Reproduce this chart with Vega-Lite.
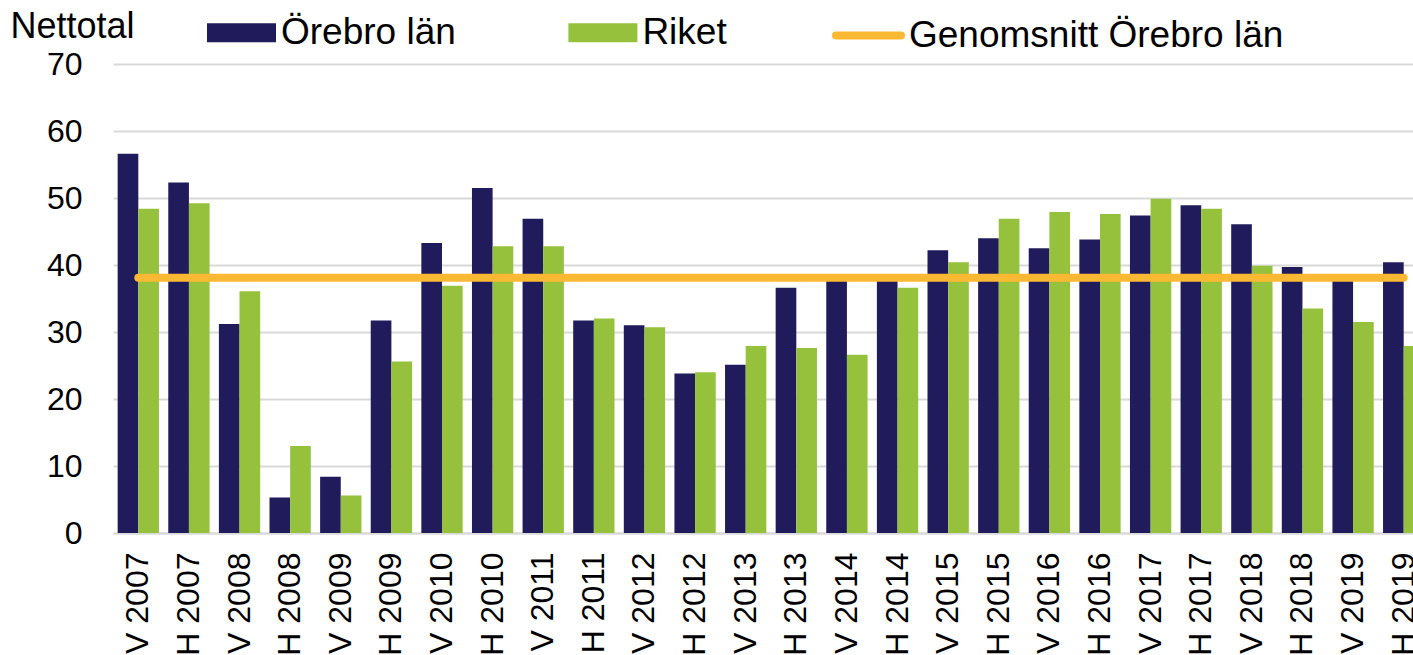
{
  "$schema": "https://vega.github.io/schema/vega-lite/v6.json",
  "autosize": {"type": "none"},
  "width": 1300,
  "height": 469,
  "padding": {"left": 113, "top": 64, "right": 0, "bottom": 122},
  "background": "white",
  "config": {
    "font": "Liberation Sans",
    "view": {"stroke": null},
    "axis": {"labelFont": "Liberation Sans", "titleFont": "Liberation Sans", "labelColor": "#000000", "titleColor": "#000000"},
    "legend": {"labelFont": "Liberation Sans"}
  },
  "datasets": {
    "bars": [
      {"period": "V 2007", "serie": "Örebro län", "value": 56.6}, {"period": "V 2007", "serie": "Riket", "value": 48.4},
      {"period": "H 2007", "serie": "Örebro län", "value": 52.3}, {"period": "H 2007", "serie": "Riket", "value": 49.2},
      {"period": "V 2008", "serie": "Örebro län", "value": 31.2}, {"period": "V 2008", "serie": "Riket", "value": 36.1},
      {"period": "H 2008", "serie": "Örebro län", "value": 5.3}, {"period": "H 2008", "serie": "Riket", "value": 13.0},
      {"period": "V 2009", "serie": "Örebro län", "value": 8.4}, {"period": "V 2009", "serie": "Riket", "value": 5.6},
      {"period": "H 2009", "serie": "Örebro län", "value": 31.7}, {"period": "H 2009", "serie": "Riket", "value": 25.6},
      {"period": "V 2010", "serie": "Örebro län", "value": 43.3}, {"period": "V 2010", "serie": "Riket", "value": 36.9},
      {"period": "H 2010", "serie": "Örebro län", "value": 51.5}, {"period": "H 2010", "serie": "Riket", "value": 42.8},
      {"period": "V 2011", "serie": "Örebro län", "value": 46.9}, {"period": "V 2011", "serie": "Riket", "value": 42.8},
      {"period": "H 2011", "serie": "Örebro län", "value": 31.7}, {"period": "H 2011", "serie": "Riket", "value": 32.0},
      {"period": "V 2012", "serie": "Örebro län", "value": 31.0}, {"period": "V 2012", "serie": "Riket", "value": 30.7},
      {"period": "H 2012", "serie": "Örebro län", "value": 23.8}, {"period": "H 2012", "serie": "Riket", "value": 24.0},
      {"period": "V 2013", "serie": "Örebro län", "value": 25.1}, {"period": "V 2013", "serie": "Riket", "value": 27.9},
      {"period": "H 2013", "serie": "Örebro län", "value": 36.6}, {"period": "H 2013", "serie": "Riket", "value": 27.6},
      {"period": "V 2014", "serie": "Örebro län", "value": 38.0}, {"period": "V 2014", "serie": "Riket", "value": 26.6},
      {"period": "H 2014", "serie": "Örebro län", "value": 38.0}, {"period": "H 2014", "serie": "Riket", "value": 36.6},
      {"period": "V 2015", "serie": "Örebro län", "value": 42.2}, {"period": "V 2015", "serie": "Riket", "value": 40.4},
      {"period": "H 2015", "serie": "Örebro län", "value": 44.0}, {"period": "H 2015", "serie": "Riket", "value": 46.9},
      {"period": "V 2016", "serie": "Örebro län", "value": 42.5}, {"period": "V 2016", "serie": "Riket", "value": 47.9},
      {"period": "H 2016", "serie": "Örebro län", "value": 43.8}, {"period": "H 2016", "serie": "Riket", "value": 47.6},
      {"period": "V 2017", "serie": "Örebro län", "value": 47.4}, {"period": "V 2017", "serie": "Riket", "value": 49.9},
      {"period": "H 2017", "serie": "Örebro län", "value": 48.9}, {"period": "H 2017", "serie": "Riket", "value": 48.4},
      {"period": "V 2018", "serie": "Örebro län", "value": 46.1}, {"period": "V 2018", "serie": "Riket", "value": 39.9},
      {"period": "H 2018", "serie": "Örebro län", "value": 39.7}, {"period": "H 2018", "serie": "Riket", "value": 33.5},
      {"period": "V 2019", "serie": "Örebro län", "value": 38.0}, {"period": "V 2019", "serie": "Riket", "value": 31.5},
      {"period": "H 2019", "serie": "Örebro län", "value": 40.4}, {"period": "H 2019", "serie": "Riket", "value": 27.9}
    ],
    "snitt": [
      {"period": "V 2007", "serie": "Genomsnitt Örebro län", "value": 38.1},
      {"period": "H 2019", "serie": "Genomsnitt Örebro län", "value": 38.1}
    ]
  },
  "encoding": {
    "x": {
      "field": "period", "type": "nominal",
      "scale": {
        "domain": ["V 2007","H 2007","V 2008","H 2008","V 2009","H 2009","V 2010","H 2010","V 2011","H 2011","V 2012","H 2012","V 2013","H 2013","V 2014","H 2014","V 2015","H 2015","V 2016","H 2016","V 2017","H 2017","V 2018","H 2018","V 2019","H 2019"],
        "range": [0, 1316], "paddingInner": 0.184, "paddingOuter": 0.092
      },
      "axis": {
        "title": null, "labelAngle": -90, "labelFontSize": 32, "labelPadding": 19,
        "ticks": false, "domain": true, "domainColor": "#D9D9D9", "domainWidth": 2, "grid": false
      }
    },
    "y": {
      "field": "value", "type": "quantitative",
      "scale": {"domain": [0, 70], "nice": false},
      "axis": {
        "title": "Nettotal", "titleAngle": 0, "titleAlign": "left", "titleBaseline": "alphabetic",
        "titleX": -103, "titleY": -27, "titleFontSize": 36, "titleFontWeight": "normal",
        "values": [0, 10, 20, 30, 40, 50, 60, 70],
        "labelFontSize": 32, "labelPadding": 31, "ticks": false, "domain": false,
        "grid": true, "gridColor": "#D9D9D9", "gridWidth": 2
      }
    }
  },
  "layer": [
    {
      "data": {"name": "bars"},
      "mark": {"type": "bar"},
      "encoding": {
        "xOffset": {"field": "serie", "type": "nominal", "scale": {"domain": ["Örebro län", "Riket"], "paddingInner": 0, "paddingOuter": 0}},
        "fill": {
          "field": "serie", "type": "nominal",
          "scale": {"domain": ["Örebro län", "Riket"], "range": ["#201C5C", "#95C13D"]},
          "legend": {
            "title": null, "orient": "none", "legendX": 94, "legendY": -66,
            "direction": "horizontal", "columns": 2, "columnPadding": 112.4,
            "padding": 0, "labelFontSize": 37, "labelColor": "#000000", "labelLimit": 600,
            "labelOffset": 5, "symbolSize": 4761, "symbolStrokeWidth": 0,
            "symbolType": "M-1,-0.275L1,-0.275L1,0.275L-1,0.275Z"
          }
        }
      }
    },
    {
      "data": {"name": "snitt"},
      "mark": {"type": "line", "strokeWidth": 8, "strokeCap": "round"},
      "encoding": {
        "stroke": {
          "field": "serie", "type": "nominal",
          "scale": {"domain": ["Genomsnitt Örebro län"], "range": ["#FBB933"]},
          "legend": {
            "title": null, "orient": "none", "legendX": 719, "legendY": -65,
            "direction": "horizontal", "padding": 0, "labelFontSize": 37, "labelColor": "#000000",
            "labelLimit": 600, "labelOffset": 4, "symbolType": "stroke", "symbolSize": 4225,
            "symbolStrokeWidth": 8,
            "encode": {"symbols": {"update": {"strokeCap": {"value": "round"}}}}
          }
        }
      }
    }
  ]
}
